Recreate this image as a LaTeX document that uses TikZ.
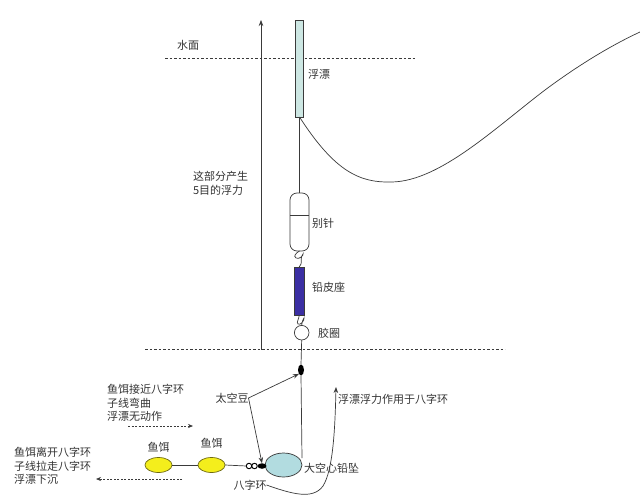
\documentclass[tikz,border=0pt]{standalone}
\usepackage{fontspec}
\setmainfont{Noto Sans CJK SC}
\usetikzlibrary{arrows.meta,shapes.geometric}
\definecolor{ln}{HTML}{3A3A3A}
\definecolor{floatc}{HTML}{CDE7E3}
\definecolor{leadc}{HTML}{3B2FA3}
\definecolor{sinkc}{HTML}{B2DCE0}
\definecolor{baitc}{HTML}{F4EE1C}
\definecolor{baitb}{HTML}{6E6A10}
\begin{document}
\begin{tikzpicture}[x=1pt,y=-1pt,
  every node/.style={inner sep=0pt,outer sep=0pt},
  lbl/.style={font=\fontsize{11}{13.5}\selectfont,text=black!80,align=left},
  wire/.style={draw=ln,line width=0.7pt},
  wl/.style={dashed,draw=ln,line width=0.6pt,dash pattern=on 2.5pt off 2pt},
  arr/.style={wire,-{Stealth[length=6pt,width=4.5pt]}},
  darr/.style={draw=ln,line width=0.6pt,dash pattern=on 2pt off 1.5pt,-{Stealth[length=5pt,width=4pt]}},
  bait/.style={ellipse,draw=baitb,fill=baitc,line width=0.7pt,minimum width=27pt,minimum height=15pt}]
\useasboundingbox (0,0) rectangle (640,500);
\fill[white] (0,0) rectangle (640,500);
% water surface and bottom line
\coordinate (ws1) at (165,58.3);
\coordinate (ws2) at (415,58.3);
\draw[wl] (ws1) -- (ws2);
\coordinate (bt1) at (145,349.5);
\coordinate (bt2) at (505,349.5);
\draw[wl] (bt1) -- (bt2);
\node[lbl] (shuimian) at (188,45) {水面};
% vertical arrow
\coordinate (va1) at (261,349.5);
\coordinate (va2) at (261,20);
\draw[arr] (va1) -- (va2);
\node[lbl,anchor=west] (buoy5) at (193,183.5) {这部分产生\\5目的浮力};
% float
\node[draw=ln,fill=floatc,line width=0.7pt,minimum width=7.5pt,minimum height=97pt] (float) at (299.5,68.5) {};
\node[lbl,anchor=west] (floatlbl) at (308,74) {浮漂};
% rod line curve
\coordinate (rodtip) at (640,32);
\draw[wire] (float.south) .. controls (335,172) and (360,183) .. (392,182)
  .. controls (440,181) and (495,128) .. (545,90)
  .. controls (580,64) and (612,45) .. (rodtip);
% pin
\node[draw=ln,fill=white,line width=0.7pt,rounded corners=7pt,minimum width=19pt,minimum height=58pt] (pin) at (299.5,222) {};
\draw[wire] (pin.west |- 0,215.5) -- (pin.east |- 0,215.5);
\draw[wire] (float.south) -- (pin.north);
\node[lbl,anchor=west] (pinlbl) at (312,223) {别针};
% lead seat
\node[draw=ln,fill=leadc,line width=0.7pt,minimum width=10.5pt,minimum height=48pt] (lead) at (299.2,291) {};
\node[lbl,anchor=west] (leadlbl) at (312,287) {铅皮座};
% hook between pin and lead
\draw[wire] (pin.south) .. controls (296,253) and (293,256) .. (296,258)
  .. controls (299,260) and (304,255) .. (303,254)
  .. controls (300,257) and (302,262) .. (301,264) -- (lead.north);
% gum ring
\node[draw=ln,fill=white,line width=0.7pt,circle,minimum size=14.6pt] (gum) at (301.7,332.7) {};
\node[lbl,anchor=west] (gumlbl) at (318,333) {胶圈};
\draw[wire] (lead.south) .. controls (299,320) and (296,322) .. (298,324)
  .. controls (300,326) and (305,320) .. (304,318)
  .. controls (302,321) and (302,324) .. (gum.north);
% space bean
\node[ellipse,fill=black,minimum width=6pt,minimum height=11pt] (bean) at (301,370) {};
% sinker
\node[ellipse,draw=ln,fill=sinkc,line width=0.7pt,minimum width=37pt,minimum height=24pt] (sinker) at (283.5,465) {};
\node[lbl,anchor=west] (sinklbl) at (304,468) {大空心铅坠};
\draw[wire] (gum.south) -- (bean.north);
\draw[wire] (bean.south) -- (302,458);
% figure-eight ring
\node[circle,draw=black,line width=0.9pt,minimum size=5.5pt] (ringA) at (249,466) {};
\node[circle,draw=black,line width=0.9pt,minimum size=5.5pt] (ringB) at (254.5,466) {};
\node[ellipse,fill=black,minimum width=9pt,minimum height=5.5pt] (ringC) at (262,466) {};
\node[lbl] (ringlbl) at (250,485) {八字环};
% baits
\node[bait] (bait2) at (211.5,465) {};
\node[bait] (bait1) at (158.5,465) {};
\node[lbl] (bait1lbl) at (158.5,447) {鱼饵};
\node[lbl] (bait2lbl) at (211.5,443) {鱼饵};
\draw[wire] (ringA.west) -- (bait2.east);
\draw[wire] (bait2.west) -- (bait1.east);
% space bean label and arrows
\node[lbl] (tkd) at (232,398) {太空豆};
\draw[arr] (tkd.east) -- (bean.south west);
\draw[arr] (tkd.east) -- (ringC.north);
% buoyancy curve arrow
\node[lbl,anchor=west] (buoylbl) at (338,399) {浮漂浮力作用于八字环};
\coordinate (bup) at (336,387);
\draw[arr] (ringlbl.east) .. controls (292,494) and (313,500) .. (323,486)
  .. controls (333,470) and (335,430) .. (bup);
% explanation texts
\node[lbl,anchor=west] (txt1) at (107,403) {鱼饵接近八字环\\子线弯曲\\浮漂无动作};
\coordinate (d1a) at (128,426);
\coordinate (d1b) at (193,426);
\draw[darr] (d1a) -- (d1b);
\node[lbl,anchor=west] (txt2) at (14,466) {鱼饵离开八字环\\子线拉走八字环\\浮漂下沉};
\coordinate (d2a) at (182,479);
\coordinate (d2b) at (96,479);
\draw[darr] (d2a) -- (d2b);
\end{tikzpicture}
\end{document}
